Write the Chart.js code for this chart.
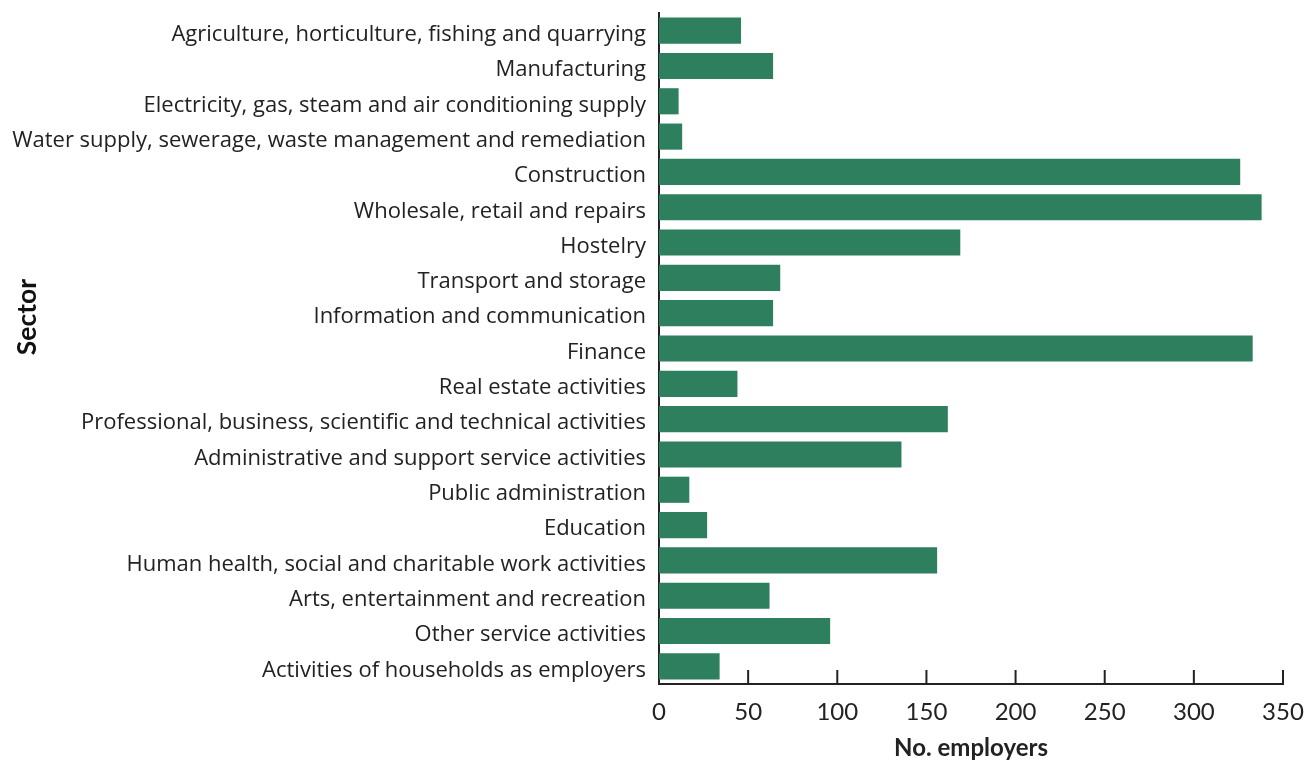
<!DOCTYPE html>
<html>
<head>
<meta charset="utf-8">
<script src="https://cdn.jsdelivr.net/npm/chart.js@4"></script>
<style>
  body { margin: 0; background: #fff; }
  #wrap { width: 1309px; height: 760px; }
</style>
</head>
<body>
<div id="wrap"><canvas id="myChart"></canvas></div>
<script>
const sectors = [
  'Agriculture, horticulture, fishing and quarrying',
  'Manufacturing',
  'Electricity, gas, steam and air conditioning supply',
  'Water supply, sewerage, waste management and remediation',
  'Construction',
  'Wholesale, retail and repairs',
  'Hostelry',
  'Transport and storage',
  'Information and communication',
  'Finance',
  'Real estate activities',
  'Professional, business, scientific and technical activities',
  'Administrative and support service activities',
  'Public administration',
  'Education',
  'Human health, social and charitable work activities',
  'Arts, entertainment and recreation',
  'Other service activities',
  'Activities of households as employers'
];
const employers = [46, 64, 11, 13, 326, 338, 169, 68, 64, 333, 44, 162, 136, 17, 27, 156, 62, 96, 34];
const xTicks = [0, 50, 100, 150, 200, 250, 300, 350];
const yTitle = 'Sector';

const font = "Lato, 'Open Sans', sans-serif";
const labelFont = "'Open Sans', Lato, sans-serif";

// tick marks on the x axis point up into the plot, plus the y title
const extras = {
  id: 'extras',
  afterDatasetsDraw(chart) {
    const x = chart.scales.x;
    const ctx = chart.ctx;
    const y0 = x.top;
    ctx.save();
    ctx.strokeStyle = '#222';
    ctx.lineWidth = 2;
    xTicks.forEach(v => {
      if (v === 0) return;
      const px = x.getPixelForValue(v);
      ctx.beginPath();
      ctx.moveTo(px, y0);
      ctx.lineTo(px, y0 - 14);
      ctx.stroke();
    });
    ctx.translate(27, 317);
    ctx.rotate(-Math.PI / 2);
    ctx.fillStyle = '#111';
    ctx.font = "bold 26.5px " + font;
    ctx.textAlign = 'center';
    ctx.textBaseline = 'middle';
    ctx.fillText(yTitle, 0, 0);
    ctx.restore();
  }
};

const ctx = document.getElementById('myChart').getContext('2d');
const chart = new Chart(ctx, {
  type: 'bar',
  data: {
    labels: sectors,
    datasets: [{
      data: employers,
      backgroundColor: '#2e7f5e',
      borderWidth: 0,
      barPercentage: 0.74,
      categoryPercentage: 1
    }]
  },
  options: {
    indexAxis: 'y',
    responsive: true,
    maintainAspectRatio: false,
    animation: false,
    layout: { padding: { top: 13, right: 26, bottom: 0, left: 0 } },
    plugins: {
      legend: { display: false },
      tooltip: { enabled: false }
    },
    scales: {
      x: {
        min: 0,
        max: 350,
        afterBuildTicks(scale) {
          scale.ticks = xTicks.map(v => ({ value: v }));
        },
        afterFit(scale) {
          scale.height = 76;
          scale.paddingLeft = 0;
          scale.paddingRight = 0;
        },
        grid: { display: false, drawTicks: false },
        border: { display: true, color: '#222', width: 2 },
        ticks: {
          color: '#222',
          font: { family: font, size: 24 },
          padding: 14,
          maxRotation: 0
        },
        title: {
          display: true,
          text: 'No. employers',
          color: '#222',
          font: { family: font, size: 24, weight: 'bold' },
          padding: { top: 6, bottom: -3 }
        }
      },
      y: {
        afterFit(scale) {
          scale.width = 659;
          scale.paddingTop = 0;
          scale.paddingBottom = 0;
        },
        grid: { display: false, drawTicks: false },
        border: { display: true, color: '#222', width: 2 },
        ticks: {
          color: '#222',
          font: { family: labelFont, size: 22 },
          padding: 13,
          labelOffset: 4,
          autoSkip: false
        }
      }
    }
  },
  plugins: [extras]
});
</script>
</body>
</html>
